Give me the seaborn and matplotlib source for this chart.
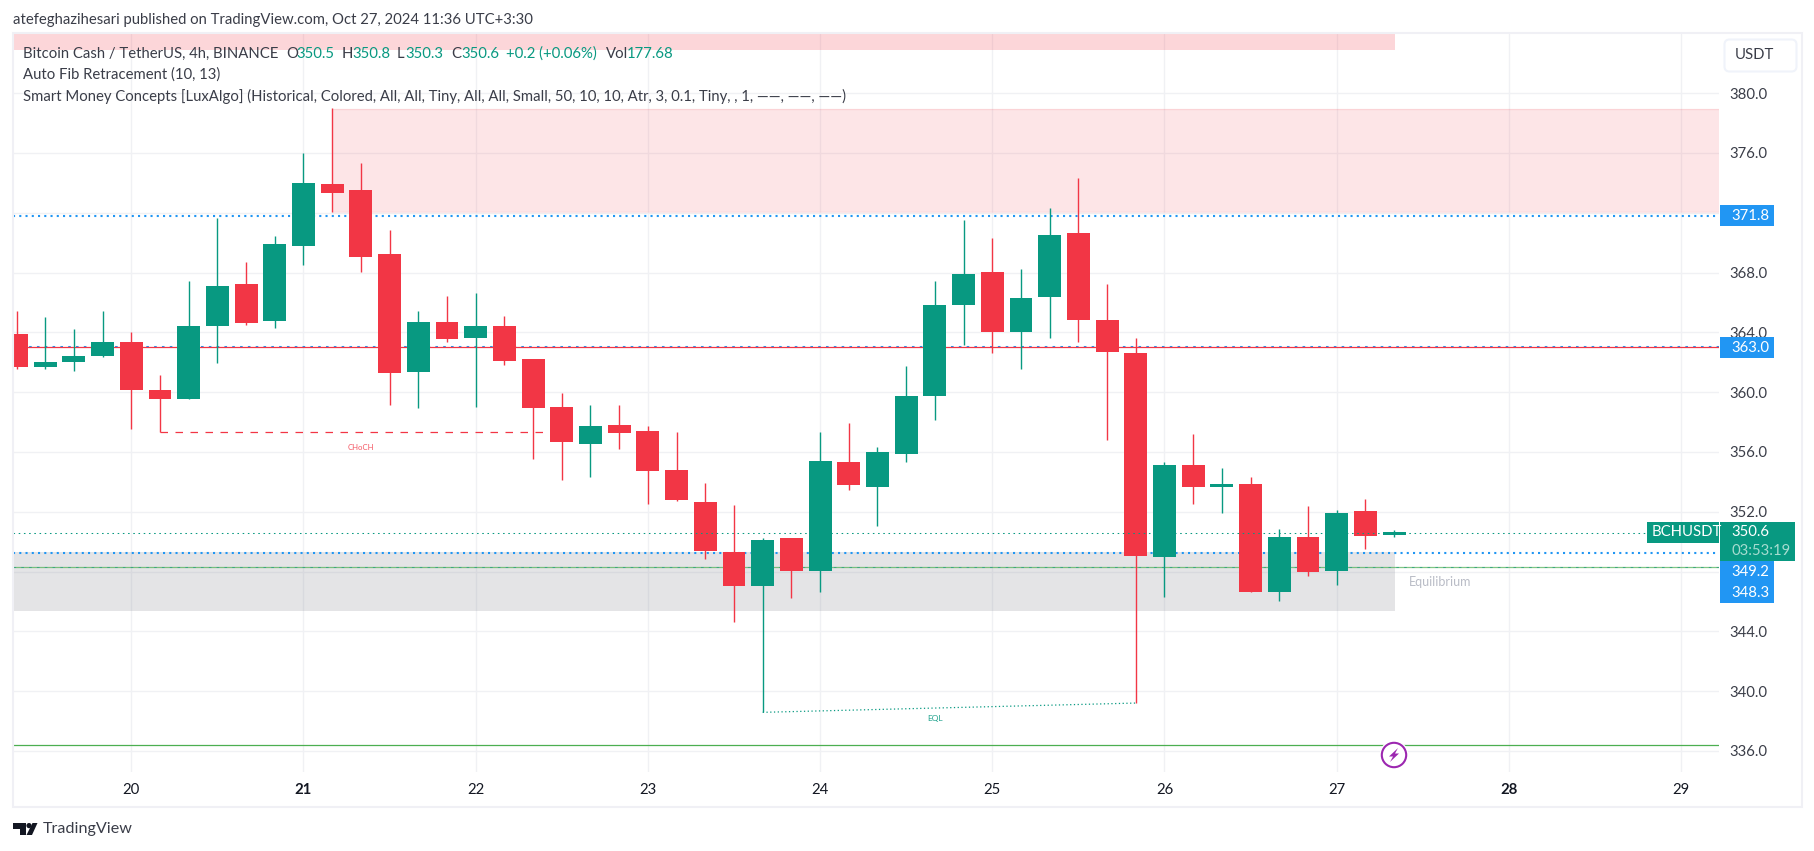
import matplotlib
matplotlib.use("Agg")
import matplotlib.pyplot as plt
from matplotlib.patches import Rectangle, Circle, Polygon, FancyBboxPatch
from matplotlib.transforms import Affine2D
import numpy as np
import pandas as pd
import seaborn as sns

# ---- data ----
opens = [363.9,361.7,362.0,362.4,363.35,360.14,359.56,364.45,367.23,364.78,369.8,373.92,373.52,369.24,361.35,364.69,363.62,364.42,362.22,
         359.0,356.53,357.8,357.4,354.79,352.65,349.31,347.03,350.24,348.04,355.33,353.65,355.86,359.74,365.83,368.04,364.02,366.36,370.64,364.82,
         362.62,348.97,355.13,353.65,353.86,346.63,350.31,348.04,352.05,350.5]
highs = [365.43,365.03,364.22,365.43,364.02,361.15,367.43,371.65,368.7,370.44,376.0,379.0,375.33,370.85,365.43,366.43,366.63,365.09,362.22,
         359.94,359.14,359.14,357.73,357.33,353.92,352.43,350.24,350.24,357.33,357.94,356.33,361.75,367.43,371.51,370.31,368.24,372.32,374.32,367.23,
         363.62,355.33,357.2,354.93,354.32,350.84,352.41,352.12,352.85,350.8]
lows = [361.57,361.57,361.44,362.37,357.56,357.31,359.56,361.95,364.49,364.29,368.5,372.05,368.04,359.14,358.94,363.35,359.0,361.81,355.55,
        354.12,354.32,356.2,352.52,352.72,348.84,344.62,338.58,346.23,346.63,353.45,351.05,355.33,358.14,363.15,362.62,361.55,363.62,363.35,356.8,
        339.2,346.3,352.52,351.92,346.63,346.03,347.7,347.1,349.5,350.3]
closes = [361.7,362.0,362.4,363.35,360.14,359.56,364.45,367.1,364.65,369.91,373.99,373.34,369.06,361.3,364.69,363.55,364.42,362.08,358.94,
          356.66,357.73,357.27,354.72,352.78,349.37,347.03,350.11,348.04,355.39,353.79,356.0,359.74,365.83,367.9,364.02,366.3,370.51,364.82,362.68,
          349.04,355.13,353.65,353.86,346.63,350.31,347.97,351.92,350.38,350.6]
day_labels = ["20","21","22","23","24","25","26","27","28","29"]
bold_days = ["21","28"]
day_first_bar = 4
bars_per_day = 6
price_ticks = [336,340,344,348,352,356,360,364,368,372,376,380]
fib_high = 371.8
fib_mid = 363.0
fib_eq = 349.25
fib_low = 348.3
last_price = 350.6
support = 336.37
choch_level = 357.31
eql_left, eql_right = 338.58, 339.2

UP, DOWN = "#089981", "#F23645"
FONT = ["Lato", "DejaVu Sans"]
FS = 10.7

sns.set_theme(style="white")
plt.rcParams["font.family"] = FONT

W, H = 1814, 851
fig = plt.figure(figsize=(W/100, H/100), dpi=100, facecolor="white")
L, R, T, B = 13, 1719, 34, 771.5
ax = fig.add_axes([L/W, 1-B/H, (R-L)/W, (B-T)/H])
px = Affine2D().scale(1, -1).translate(0, H)

n = len(opens)
df = pd.DataFrame({"i": np.arange(n), "o": opens, "h": highs, "l": lows, "c": closes})
df["top"] = df[["o", "c"]].max(axis=1)
df["bot"] = df[["o", "c"]].min(axis=1)
df["dir"] = np.where(df.c >= df.o, "up", "down")
df["hh"] = (df.top - df.bot).clip(lower=0.2)
df["base"] = (df.top + df.bot)/2 - df.hh/2

# wicks + bodies through seaborn
for d, col in (("up", UP), ("down", DOWN)):
    sub = df[df.dir == d]
    long = pd.concat([sub[["i", "h"]].rename(columns={"h": "p"}), sub[["i", "l"]].rename(columns={"l": "p"})])
    sns.lineplot(data=long, x="i", y="p", units="i", estimator=None, color=col, lw=1.0,
                 ax=ax, zorder=5, legend=False, solid_capstyle="butt")
    sns.barplot(data=sub, x="i", y="hh",
                bottom=sub.base.values, native_scale=True, width=0.8, color=col, saturation=1,
                linewidth=0, errorbar=None, ax=ax, zorder=6, legend=False)

x0, x1 = (L-16.5)/28.7, (R-16.5)/28.7
ax.set_xlim(x0, x1)
ax.set_ylim(364-(B-332.3)/14.95, 364+(332.3-T)/14.95)

# grid / ticks
xt = [day_first_bar + bars_per_day*k for k in range(len(day_labels))]
ax.set_xticks(xt, day_labels)
ax.set_yticks(price_ticks, [f"{p:.1f}" for p in price_ticks])
ax.yaxis.tick_right()
ax.set_xlabel(""); ax.set_ylabel("")
ax.grid(True, color="#F0F1F4", lw=1.0, zorder=0)
ax.set_axisbelow(True)
ax.tick_params(axis="x", length=0, pad=8.5, labelsize=FS, labelcolor="#131722")
ax.tick_params(axis="y", length=0, pad=7.5, labelsize=FS, labelcolor="#3A3D48", right=False)
for lab in ax.get_xticklabels():
    if lab.get_text() in bold_days:
        lab.set_fontweight("bold")
for s in ax.spines.values():
    s.set_visible(False)

# zones
ax.axhspan(372.07, 378.96, xmin=(11-x0)/(x1-x0), xmax=1, color=DOWN, alpha=0.125, lw=0, zorder=2)
ax.hlines([372.07, 378.96], 11, x1, color=DOWN, alpha=0.1, lw=1, zorder=2)
ax.axhspan(382.9, 386, xmin=0, xmax=(48.03-x0)/(x1-x0), color=DOWN, alpha=0.2, lw=0, zorder=2)
ax.axhspan(345.36, fib_eq+0.05, xmin=0, xmax=(48.03-x0)/(x1-x0), color="#787B86", alpha=0.2, lw=0, zorder=2)

# levels
BLUE = "#2196F3"
ax.axhline(fib_high, color=BLUE, lw=1.5, ls=(0, (1, 2)), zorder=3)
ax.axhline(fib_eq, color=BLUE, lw=1.5, ls=(0, (1, 2)), zorder=3)
ax.axhline(fib_mid+0.06, color=BLUE, lw=0.75, ls=(0, (2.5, 5)), zorder=3)
ax.axhline(fib_low+0.03, color=BLUE, lw=0.75, ls=(0, (2.5, 5)), zorder=3)
ax.axhline(fib_mid, color=DOWN, lw=0.9, zorder=3.5)
ax.axhline(fib_low-0.03, color="#4CAF50", lw=0.9, alpha=0.7, zorder=3.5)
ax.axhline(support, color="#4CAF50", lw=0.9, zorder=3.5)
ax.axhline(last_price, color=UP, lw=0.75, ls=(0, (1.5, 3.5)), zorder=7)
ax.hlines(choch_level, 5, 19, color=DOWN, lw=0.9, ls=(0, (6, 6)), zorder=3)
ax.plot([26, 39], [eql_left, eql_right], color=UP, lw=0.9, ls=(0, (1, 2)), zorder=3)

def t(x, y, s, color="#131722", size=FS, ha="left", va="center", **kw):
    return fig.text(x, y, s, transform=px, color=color, fontsize=size, ha=ha, va=va, **kw)

# tiny annotations
t(361, 447, "CHoCH", color=DOWN, size=5.6, ha="center", alpha=0.85)
t(935, 718, "EQL", color=UP, size=6, ha="center", alpha=0.9)
t(1409, 582, "Equilibrium", color="#B9BCC6", size=9)

# header
DK = "#3A3D48"
t(13, 20, "atefeghazihesari published on TradingView.com, Oct 27, 2024 11:36 UTC+3:30", color=DK)
for x, s, c in [(23, "Bitcoin Cash / TetherUS, 4h, BINANCE", DK), (286, "O", DK), (296, "350.5", UP),
                (341.5, "H", DK), (352.5, "350.8", UP), (397, "L", DK), (405.5, "350.3", UP),
                (451, "C", DK), (461, "350.6", UP), (506, "+0.2 (+0.06%)", UP), (606, "Vol", DK), (627, "177.68", UP)]:
    t(x, 54, s, color=c)
t(23, 75, "Auto Fib Retracement (10, 13)", color=DK)
t(23, 96, "Smart Money Concepts [LuxAlgo] (Historical, Colored, All, All, Tiny, All, All, Small, 50, 10, 10, Atr, 3, 0.1, Tiny, , 1, ——, ——, ——)", color=DK)

# frame
fig.add_artist(Rectangle((12.5, 33), 1789.5, 773.5, transform=px, fc="none", ec="#F0F0F5", lw=1.5, zorder=1))

# price labels
def box(x, y, w, h, fc):
    fig.add_artist(Rectangle((x, y), w, h, transform=px, fc=fc, ec="none", zorder=2))

box(1720, 205, 54, 21, BLUE); t(1731, 215.5, "371.8", color="white")
box(1720, 337, 54, 21, BLUE); t(1731, 347.5, "363.0", color="white")
box(1720, 561, 54, 42, BLUE); t(1731, 572, "349.2", color="white"); t(1731, 593, "348.3", color="white")
box(1647, 522, 72, 21, UP); t(1652, 532.5, "BCHUSDT", color="white")
box(1720, 522, 75, 39, UP); t(1731, 532.5, "350.6", color="white"); t(1731, 551, "03:53:19", color="#A6DCD0")

# currency button
fig.add_artist(FancyBboxPatch((1727, 42), 67, 27, boxstyle="round,pad=2.5,rounding_size=5", transform=px,
                              fc="white", ec="#F0F3FA", lw=1.5, zorder=2))
t(1735, 55, "USDT", color=DK)

# lightning marker
fig.add_artist(Circle((1394, 755), 14.5, transform=px, fc="white", ec="none", zorder=2))
fig.add_artist(Circle((1394, 755), 12.2, transform=px, fc="white", ec="#9C27B0", lw=1.5, zorder=2))
fig.add_artist(Polygon([(1398, 748), (1389, 756.5), (1393, 756.5), (1390, 762), (1399, 753.5), (1395, 753.5)],
                       transform=px, fc="#9C27B0", ec="none", zorder=3))

# TradingView logo
LG = "#131722"
fig.add_artist(Polygon([(13, 823), (26, 823), (26, 835), (20, 835), (20, 828.5), (13, 828.5)], transform=px, fc=LG, ec="none", zorder=2))
fig.add_artist(Circle((29, 825.6), 2.6, transform=px, fc=LG, ec="none", zorder=2))
fig.add_artist(Polygon([(32.5, 823), (37.5, 823), (32, 835), (26.5, 835)], transform=px, fc=LG, ec="none", zorder=2))
t(43, 829, "TradingView", color=DK, size=11.6)

fig.savefig("out.png", dpi=100, facecolor="white")
